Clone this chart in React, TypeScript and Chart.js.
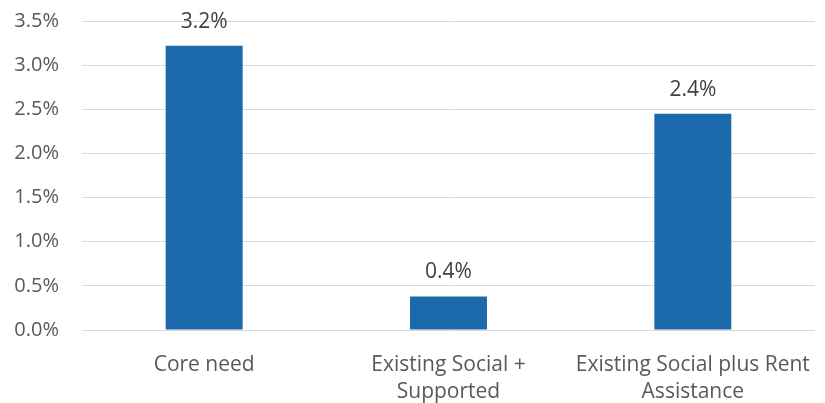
import React, { useEffect, useRef } from "react";
import { Chart, registerables } from "chart.js";

Chart.register(...registerables);

const categories: (string | string[])[] = [
  "Core need",
  ["Existing Social +", "Supported"],
  ["Existing Social plus Rent", "Assistance"],
];
const values: number[] = [3.22, 0.38, 2.45];
const valueLabels: string[] = ["3.2%", "0.4%", "2.4%"];
const yTicks: number[] = [0, 0.5, 1, 1.5, 2, 2.5, 3, 3.5];

const FONT = "'Open Sans', sans-serif";

const labelPlugin = {
  id: "valueLabels",
  afterDatasetsDraw(chart: any) {
    const ctx = chart.ctx;
    const meta = chart.getDatasetMeta(0);
    ctx.save();
    ctx.font = `21px ${FONT}`;
    ctx.fillStyle = "#404040";
    ctx.textAlign = "center";
    ctx.textBaseline = "alphabetic";
    meta.data.forEach((bar: any, i: number) => {
      ctx.fillText(valueLabels[i], bar.x, bar.y - 18);
    });
    ctx.restore();
  },
};

export default function App() {
  const ref = useRef<HTMLCanvasElement | null>(null);
  useEffect(() => {
    document.body.style.margin = "0";
    const chart = new Chart(ref.current!, {
      type: "bar",
      data: {
        labels: categories,
        datasets: [
          {
            data: values,
            backgroundColor: "#1c6aab",
            barPercentage: 0.315,
            categoryPercentage: 1,
          },
        ],
      },
      options: {
        animation: false,
        responsive: false,
        maintainAspectRatio: false,
        layout: { padding: { left: 13, right: 10, top: 21, bottom: 0 } },
        plugins: { legend: { display: false }, tooltip: { enabled: false } },
        scales: {
          x: {
            grid: { display: false, drawTicks: false },
            border: { display: false },
            afterFit: (axis: any) => {
              axis.height = 73;
              axis.paddingLeft = 0;
              axis.paddingRight = 0;
            },
            ticks: {
              color: "#595959",
              font: { family: FONT, size: 21, lineHeight: 1.29 },
              padding: 21,
              maxRotation: 0,
              autoSkip: false,
            },
          },
          y: {
            min: 0,
            max: 3.5,
            afterBuildTicks: (axis: any) => {
              axis.ticks = yTicks.map((v) => ({ value: v }));
            },
            afterFit: (axis: any) => {
              axis.width = 69;
              axis.paddingTop = 0;
              axis.paddingBottom = 0;
            },
            grid: { color: "#d9d9d9", lineWidth: 1, drawTicks: false },
            border: { display: false },
            ticks: {
              color: "#595959",
              font: { family: FONT, size: 20 },
              padding: 23,
              callback: (v: any) => Number(v).toFixed(1) + "%",
            },
          },
        },
      },
      plugins: [labelPlugin],
    });
    return () => chart.destroy();
  }, []);
  return (
    <div style={{ width: 825, height: 403 }}>
      <canvas ref={ref} width={825} height={403} style={{ display: "block" }} />
    </div>
  );
}
